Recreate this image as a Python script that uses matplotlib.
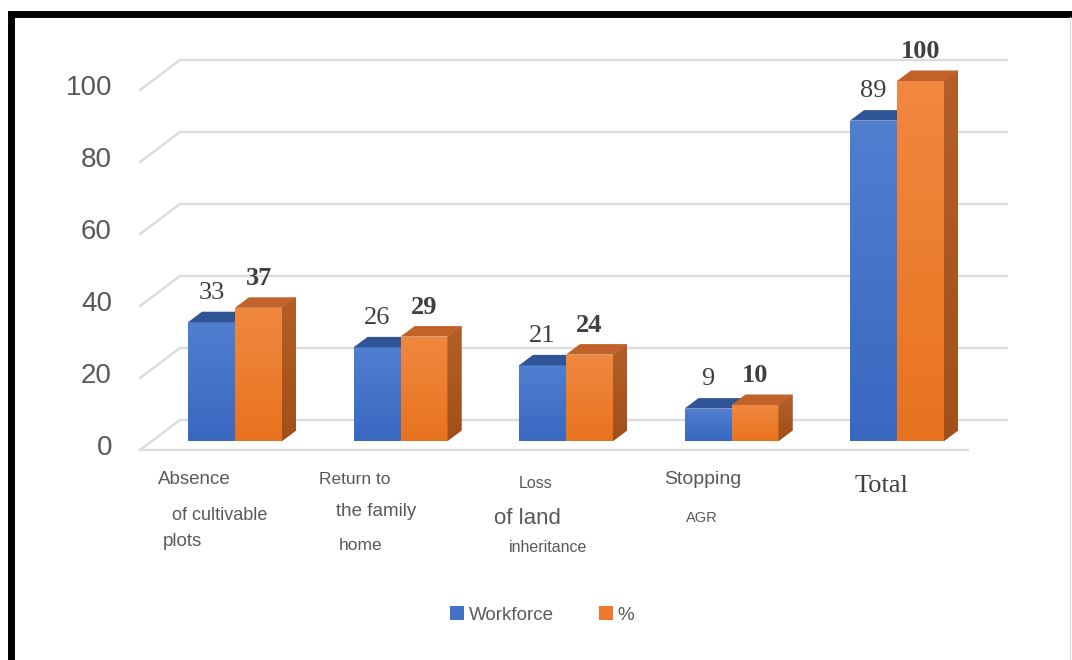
import numpy as np
import matplotlib.pyplot as plt
from matplotlib.patches import Polygon
from matplotlib.lines import Line2D
from matplotlib.colors import to_rgb

# chart data
categories = [
    ("Absence", "of cultivable", "plots"),
    ("Return to", "the family", "home"),
    ("Loss", "of land", "inheritance"),
    ("Stopping", "AGR"),
    ("Total",),
]
workforce = [33, 26, 21, 9, 89]
percent = [37, 29, 24, 10, 100]
y_ticks = [0, 20, 40, 60, 80, 100]
series_names = ["Workforce", "%"]

# per-line placement of the category captions: (dx px from group centre, y px, size, serif)
label_layout = [
    [(-77, 480, 13.5, False), (-63, 515, 13, False), (-72, 542, 13.5, False)],
    [(-82, 480, 12.5, False), (-65, 512, 13.5, False), (-62, 545, 12.5, False)],
    [(-47, 483, 11.5, False), (-72, 518, 16, False), (-57, 547, 11.5, False)],
    [(-67, 480, 14, False), (-46, 518, 10.5, False)],
    [(-42, 486, 19, True)],
]

W, H = 1072, 660
STEP = 165.5      # px between category centres
PPU = 3.6         # px per value unit
X0 = 235          # px of first category centre
BASE = 441        # px of the bar baseline

BLUE, BLUE_TOP = "#4472C4", "#2F5597"
BLUE_GRAD = ("#507FD0", "#3868C0")
ORANGE, ORANGE_TOP = "#EE7A2D", "#C0622A"
ORANGE_GRAD = ("#F1883F", "#E8731F")
SIDE_GRAD = ("#B45F28", "#A0501A")
GRID = "#DCDCDC"
TEXT = "#595959"


def px_x(dx):
    return dx / STEP


def px_y(dy):
    return -dy / PPU


fig = plt.figure(figsize=(W / 100, H / 100), dpi=100)
ax = fig.add_axes([0, 0, 1, 1])
ax.set_axis_off()


def shade(patch, extent, colors, z):
    """Fill a patch with a vertical gradient (top colour -> bottom colour)."""
    t = np.linspace(0, 1, 64)[:, None]
    c0, c1 = np.array(to_rgb(colors[0])), np.array(to_rgb(colors[1]))
    img = (c0 * (1 - t) + c1 * t)[:, None, :]
    im = ax.imshow(img, extent=extent, origin="upper", aspect="auto",
                   interpolation="bilinear", zorder=z)
    im.set_clip_path(patch)


# wall geometry: front plane sits in front of the bars, back wall behind them
front_dx, front_dy = px_x(-12), px_y(9)
depth_x, depth_y = px_x(40), px_y(-30)
wall_l = (140 - X0) / STEP
wall_r = (968 - X0) / STEP

for v in y_ticks:
    yf = v + front_dy
    ax.plot([wall_l + depth_x, wall_r + depth_x], [yf + depth_y, yf + depth_y],
            color=GRID, lw=1.7, zorder=1, solid_capstyle="butt")
    ax.plot([wall_l, wall_l + depth_x], [yf, yf + depth_y],
            color=GRID, lw=1.7, zorder=1)
    ax.text((112 - X0) / STEP, yf + px_y(-2), str(v), ha="right", va="center",
            fontsize=20, color=TEXT, family="Liberation Sans")
ax.plot([wall_l, wall_r], [front_dy, front_dy], color=GRID, lw=1.7, zorder=1)

# 3d-looking bars
xs = list(range(len(categories)))
bw = px_x(47)
bdx, bdy = px_x(14), px_y(-10.5)


def faces(x0, x1, v, top_c, side, z):
    ax.add_patch(Polygon([(x0, v), (x1, v), (x1 + bdx, v + bdy), (x0 + bdx, v + bdy)],
                         closed=True, fc=top_c, ec="none", zorder=z))
    if side:
        p = Polygon([(x1, 0), (x1 + bdx, bdy), (x1 + bdx, v + bdy), (x1, v)],
                    closed=True, fc=SIDE_GRAD[1], ec="none", zorder=z)
        ax.add_patch(p)
        shade(p, (x1, x1 + bdx, 0, v + bdy), SIDE_GRAD, z + 0.01)


blue_bars = ax.bar([x - bw / 2 for x in xs], workforce, width=bw, color=BLUE,
                   zorder=3, label=series_names[0])
for x, v, rect in zip(xs, workforce, blue_bars):
    shade(rect, (x - bw, x, 0, v), BLUE_GRAD, 3.1)
    faces(x - bw, x, v, BLUE_TOP, False, 3.2)

orange_bars = ax.bar([x + bw / 2 for x in xs], percent, width=bw, color=ORANGE,
                     zorder=4, label=series_names[1])
for x, v, rect in zip(xs, percent, orange_bars):
    shade(rect, (x, x + bw, 0, v), ORANGE_GRAD, 4.1)
    faces(x, x + bw, v, ORANGE_TOP, True, 4.2)

# value labels
for x, v in zip(xs, workforce):
    ax.annotate(str(v), (x - bw / 2, v), xytext=(0, 21), textcoords="offset points",
                ha="center", va="center", fontsize=19, color="#404040",
                family="Liberation Serif")
for x, v in zip(xs, percent):
    ax.annotate(str(v), (x + bw / 2, v), xytext=(0, 21), textcoords="offset points",
                ha="center", va="center", fontsize=19, color="#404040",
                family="Liberation Serif", fontweight="bold")

# category captions
for x, lines, layout in zip(xs, categories, label_layout):
    for text, (dx, py, size, serif) in zip(lines, layout):
        ax.text(x + px_x(dx), px_y(py - BASE), text, ha="left", va="center",
                fontsize=size, color="#404040" if serif else TEXT,
                family="Liberation Serif" if serif else "Liberation Sans")

ax.legend(loc="center", bbox_to_anchor=(542 / W, 1 - 615 / H),
          bbox_transform=fig.transFigure, ncol=2, frameon=False,
          handlelength=0.75, handleheight=0.75,
          handletextpad=0.25, columnspacing=2.4, labelcolor=TEXT,
          prop={"family": "Liberation Sans", "size": 13.5})

ax.set_xlim(-X0 / STEP, (W - X0) / STEP)
ax.set_ylim((BASE - H) / PPU, BASE / PPU)

# frame around the figure
fig.add_artist(Line2D([11 / W, 11 / W, 1], [0, 1 - 13.5 / H, 1 - 13.5 / H],
                      transform=fig.transFigure, color="black", lw=5,
                      solid_joinstyle="miter"))
fig.add_artist(Line2D([1070 / W, 1070 / W], [0, 1 - 17 / H],
                      transform=fig.transFigure, color="#D8D8D8", lw=0.8))

fig.savefig("out.png", dpi=100, facecolor="white")
